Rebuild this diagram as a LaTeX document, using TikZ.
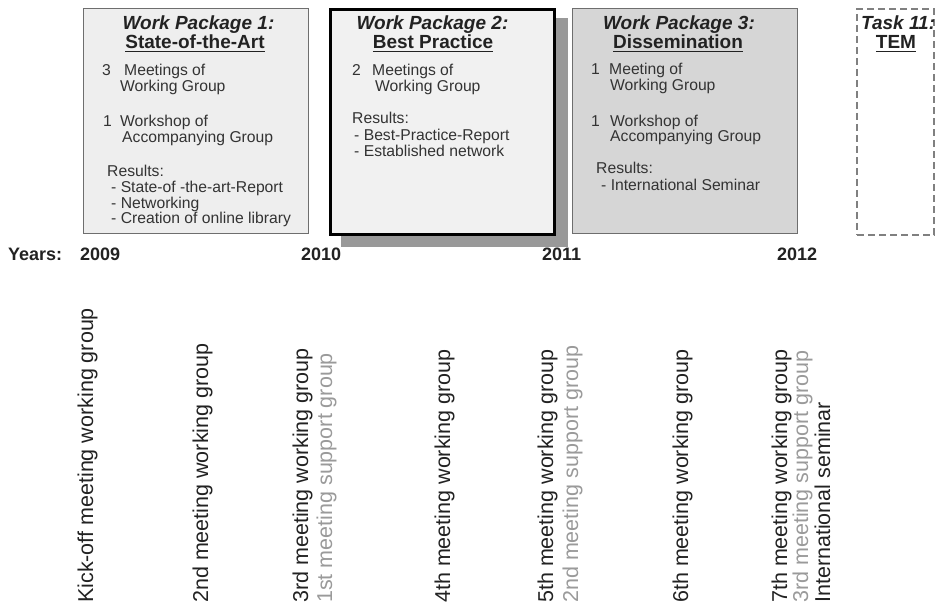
\documentclass[tikz,border=0pt]{standalone}
\usepackage{fontspec}
\setmainfont{Liberation Sans}
\definecolor{boxA}{HTML}{EEEEEE}
\definecolor{boxB}{HTML}{F1F1F1}
\definecolor{boxC}{HTML}{D6D6D6}
\definecolor{shad}{HTML}{999999}
\definecolor{edge}{HTML}{6E6E6E}
\definecolor{ink}{HTML}{333333}
\definecolor{inkdark}{HTML}{222222}
\definecolor{soft}{HTML}{9A9A9A}
\definecolor{dashc}{HTML}{808080}
\newcommand\myul[1]{\leavevmode\setbox0\hbox{#1}\rlap{\rule[-3.2pt]{\wd0}{1.3pt}}\box0}
\begin{document}
\begin{tikzpicture}[x=1pt,y=-1pt,
  wpbox/.style={line width=1.4pt, draw=edge, inner sep=0, anchor=north west},
  body/.style={anchor=base west, inner sep=0, text=ink, font=\fontsize{15.7}{18}\selectfont},
  wptitle/.style={anchor=base, inner sep=0, text=inkdark, font=\fontsize{19}{22}\selectfont\bfseries\itshape},
  wpsub/.style={anchor=base, inner sep=0, text=inkdark, font=\fontsize{19}{22}\selectfont\bfseries},
  rot/.style={rotate=90, anchor=base west, inner sep=0, text=inkdark, font=\fontsize{21.5}{24}\selectfont},
  rotsoft/.style={rot, text=soft},
  yearlab/.style={anchor=base west, inner sep=0, text=inkdark, font=\fontsize{18}{20}\selectfont\bfseries}]
\useasboundingbox (0,0) rectangle (935,607);
% boxes
\node[wpbox, fill=boxA, minimum width=225pt, minimum height=225pt] (wp1) at (83,8) {};
\fill[shad] (341,18) rectangle (568,247);
\node[wpbox, fill=boxB, draw=black, line width=3pt, minimum width=224pt, minimum height=225pt] (wp2) at (329,8) {};
\node[wpbox, fill=boxC, minimum width=225pt, minimum height=225pt] (wp3) at (572,8) {};
\node[wpbox, draw=dashc, line width=2pt, dash pattern=on 7pt off 4pt, minimum width=77pt, minimum height=226pt] (task) at (856,8) {};
% WP1 text
\node[wptitle] (t1a) at (198.5,30) {Work Package 1:};
\node[wpsub] (t1b) at (195,49) {\myul{State-of-the-Art}};
\node[body] (a1n) at (102,76) {3};
\node[body] (a1) at (124,76) {Meetings of};
\node[body] (a2) at (120,92) {Working Group};
\node[body] (a3n) at (103,127) {1};
\node[body] (a3) at (120,127) {Workshop of};
\node[body] (a4) at (122,143) {Accompanying Group};
\node[body] (a5) at (107,177) {Results:};
\node[body] (a6) at (111,193) {- State-of -the-art-Report};
\node[body] (a7) at (111,208) {- Networking};
\node[body] (a8) at (111,223) {- Creation of online library};
% WP2 text
\node[wptitle] (t2a) at (432.5,30) {Work Package 2:};
\node[wpsub] (t2b) at (433,49) {\myul{Best Practice}};
\node[body] (b1n) at (352,76) {2};
\node[body] (b1) at (372,76) {Meetings of};
\node[body] (b2) at (375,92) {Working Group};
\node[body] (b3) at (352,124) {Results:};
\node[body] (b4) at (354,141) {- Best-Practice-Report};
\node[body] (b5) at (354,157) {- Established network};
% WP3 text
\node[wptitle] (t3a) at (679,30) {Work Package 3:};
\node[wpsub] (t3b) at (678,49) {\myul{Dissemination}};
\node[body] (c1n) at (591,75) {1};
\node[body] (c1) at (609,75) {Meeting of};
\node[body] (c2) at (610,91) {Working Group};
\node[body] (c3n) at (591,127) {1};
\node[body] (c3) at (610,127) {Workshop of};
\node[body] (c4) at (610,142) {Accompanying Group};
\node[body] (c5) at (596,174) {Results:};
\node[body] (c6) at (601,191) {- International Seminar};
% Task 11
\node[wptitle, anchor=base west] (t4a) at (861,30) {Task 11:};
\node[wpsub] (t4b) at (896,49) {\myul{TEM}};
% years
\node[yearlab] (ylab) at (8,260) {Years:};
\node[yearlab] (y09) at (80,260) {2009};
\node[yearlab] (y10) at (301,260) {2010};
\node[yearlab] (y11) at (542,260) {2011};
\node[yearlab] (y12) at (777,260) {2012};
% meetings
\node[rot] (m1) at (93,603) {Kick-off meeting working group};
\node[rot] (m2) at (208,603) {2nd meeting working group};
\node[rot] (m3) at (308,603) {3rd meeting working group};
\node[rotsoft] (s1) at (332,603) {1st meeting support group};
\node[rot] (m4) at (450,603) {4th meeting working group};
\node[rot] (m5) at (553,603) {5th meeting working group};
\node[rotsoft] (s2) at (578,603) {2nd meeting support group};
\node[rot] (m6) at (688,603) {6th meeting working group};
\node[rot] (m7) at (787,603) {7th meeting working group};
\node[rotsoft] (s3) at (808,603) {3rd meeting support group};
\node[rot] (sem) at (830,603) {International seminar};
\end{tikzpicture}
\end{document}
